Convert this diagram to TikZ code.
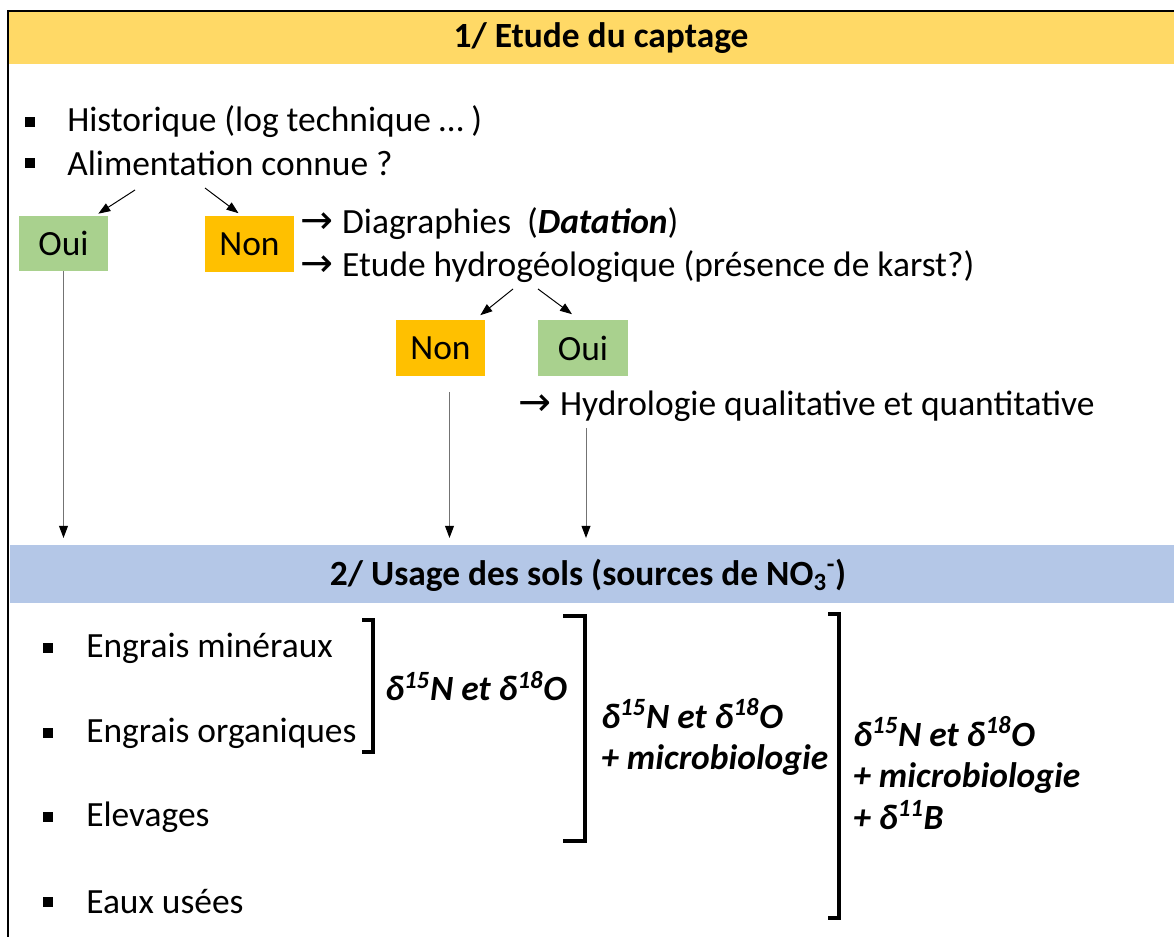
\documentclass[tikz,border=0pt]{standalone}
\usepackage{fontspec}
\setmainfont{Carlito}
\newfontfamily\arr{DejaVu Sans}
\usetikzlibrary{arrows.meta,calc}
\definecolor{jaune}{HTML}{FFD966}
\definecolor{bleu}{HTML}{B4C7E7}
\definecolor{vert}{HTML}{A9D18E}
\definecolor{orange2}{HTML}{FFC000}
\newcommand\taille{\fontsize{25.2}{29.6}\selectfont}
\newcommand\fleche{{\arr\fontsize{28}{28}\selectfont →}\hspace{0.25em}}
\tikzstyle{oui}=[fill=vert,minimum width=2.225cm,minimum height=1.375cm,inner sep=0pt]
\tikzstyle{non}=[oui,fill=orange2]
\tikzstyle{puce}=[fill=black,minimum size=0.26cm,inner sep=0pt]
\tikzstyle{txt}=[anchor=west,inner sep=0pt]
\tikzstyle{fl}=[-{Triangle[length=0.3cm,width=0.22cm,color=black]},line width=0.7pt]
\tikzstyle{vfl}=[fl,draw=black!55,shorten >=5pt]
\tikzstyle{crochet}=[line width=2.2pt]
\tikzstyle{iso}=[anchor=west,inner sep=0pt,align=left,font=\taille\bfseries\itshape]

\begin{document}
\begin{tikzpicture}[x=0.025cm,y=-0.025cm,font=\taille]
\useasboundingbox (0,0) rectangle (1174,937);
\fill[jaune] (9,12) rectangle (1174,64);
\fill[bleu] (10,545) rectangle (1174,603);
\draw[line width=1.4pt] (8,937) -- (8,11) -- (1174,11);
\node[font=\taille\bfseries] (titre1) at (601,38) {1/ Etude du captage};
\node[puce] (p1) at (30,122) {};\node[txt] (hist) at (67,122) {Historique (log technique … )};
\node[puce] (p2) at (30,163) {};\node[txt] (alim) at (67,163) {Alimentation connue ?};
\node[oui] (oui1) at (63.5,243.5) {Oui};
\node[non] (non1) at (249.5,244) {Non};
\node[txt] (diag) at (300,224) {\fleche Diagraphies~~(\textbf{\textit{Datation}})};
\node[txt] (hydrog) at (300,267) {\fleche Etude hydrogéologique (présence de karst?)};
\node[non] (non2) at (440.5,348) {Non};
\node[oui] (oui2) at (583,348) {Oui};
\node[txt] (hydrol) at (518,406) {\fleche Hydrologie qualitative et quantitative};
\coordinate (a1) at (135,190);\coordinate (a2) at (205,188);
\coordinate (a3) at (513,289);\coordinate (a4) at (538,289);
\coordinate (haut2) at (10,545);
\draw[fl] (a1) -- ($(oui1.north east)+(-10,-2)$);
\draw[fl] (a2) -- ($(non1.north)+(-11,-3)$);
\draw[fl] (a3) -- ($(non2.north east)+(-5,-5)$);
\draw[fl] (a4) -- ($(oui2.north)+(-11,-6)$);
\draw[vfl] (oui1.south) -- (oui1.south |- haut2);
\draw[vfl] ($(non2.south)+(9,16)$) -- ($(non2.south |- haut2)+(9,0)$);
\draw[vfl] ($(oui2.south)+(3,52)$) -- ($(oui2.south |- haut2)+(3,0)$);
\node[font=\taille\bfseries] (titre2) at (588,575) {2/ Usage des sols (sources de NO\textsubscript{3}\textsuperscript{-})};
\node[puce] (p3) at (48,648) {};\node[txt] (e1) at (86,648) {Engrais minéraux};
\node[puce] (p4) at (48,733) {};\node[txt] (e2) at (86,733) {Engrais organiques};
\node[puce] (p5) at (48,817) {};\node[txt] (e3) at (86,817) {Elevages};
\node[puce] (p6) at (48,902) {};\node[txt] (e4) at (86,902) {Eaux usées};
\draw[crochet] (362,620) -- (373,620) -- (373,752) -- (362,752);
\draw[crochet] (563,616) -- (585,616) -- (585,841) -- (563,841);
\draw[crochet] (828,614) -- (839,614) -- (839,918) -- (828,918);
\node[iso] (iso1) at (385,686) {δ\textsuperscript{15}N et δ\textsuperscript{18}O};
\node[iso] (iso2) at (601,737) {δ\textsuperscript{15}N et δ\textsuperscript{18}O\\+ microbiologie};
\node[iso] (iso3) at (853,773) {δ\textsuperscript{15}N et δ\textsuperscript{18}O\\+ microbiologie\\+ δ\textsuperscript{11}B};
\end{tikzpicture}
\end{document}
